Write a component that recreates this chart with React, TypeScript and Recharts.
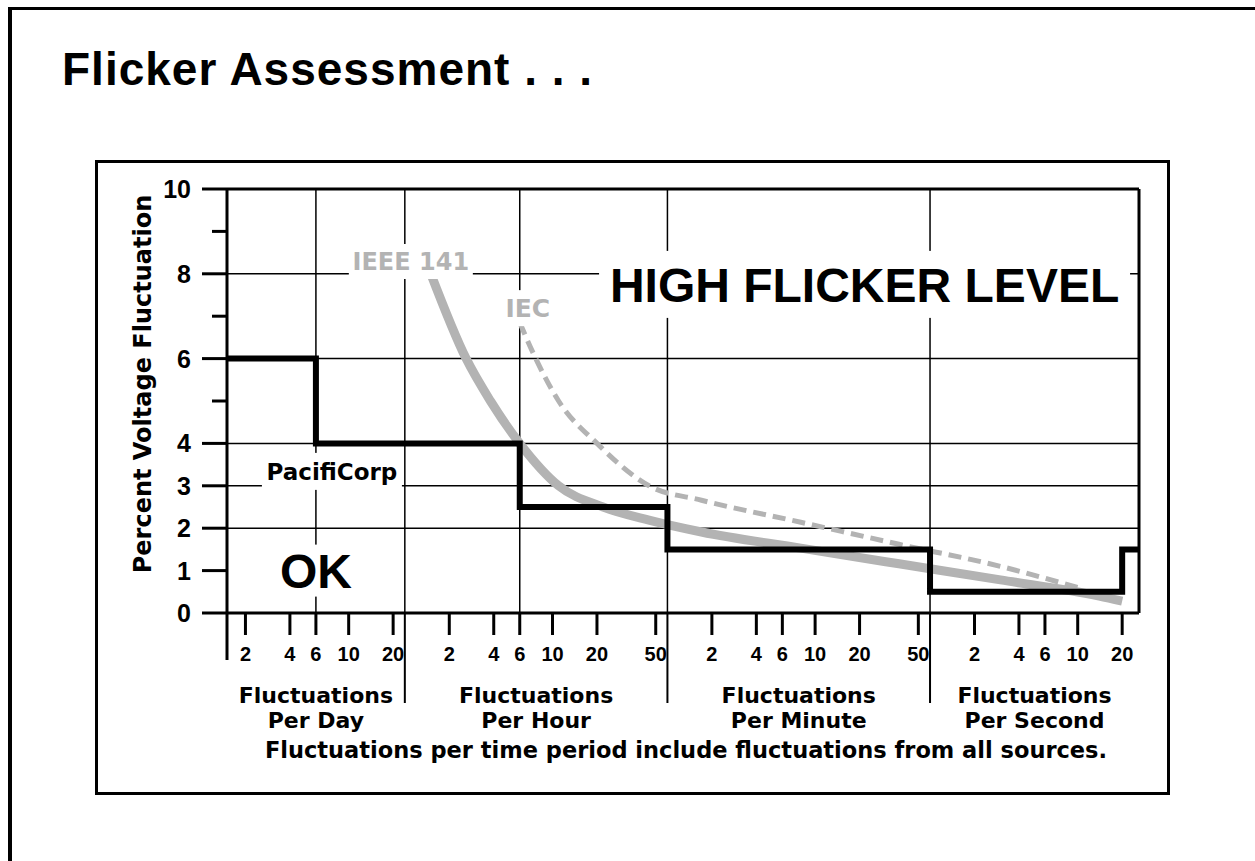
import React from "react";
import {
  LineChart, Line, XAxis, YAxis, CartesianGrid, ReferenceLine, ReferenceDot,
} from "recharts";

const SANS = "'Liberation Sans', Arial, Helvetica, sans-serif";
const WIDE = "'DejaVu Sans', Verdana, sans-serif";
const GRAY = "#b3b3b3";

// x axis is log, in fluctuations per hour
const perHour: Record<string, number> = { day: 1 / 24, hour: 1, minute: 60, second: 3600 };
const toX = (n: number, unit: string) => n * perHour[unit];

const axisStart: [number, string] = [1.5, "day"];
const axisEnd: [number, string] = [26, "second"];

const sectionUnits = ["day", "hour", "minute", "second"];
const sectionNames = ["Per Day", "Per Hour", "Per Minute", "Per Second"];
const dayTicks = [2, 4, 6, 10, 20];
const hourTicks = [2, 4, 6, 10, 20, 50];
const minuteTicks = [2, 4, 6, 10, 20, 50];
const secondTicks = [2, 4, 6, 10, 20];
const sectionTicks = [dayTicks, hourTicks, minuteTicks, secondTicks];

const yTicks = [0, 1, 2, 3, 4, 5, 6, 7, 8, 9, 10];
const yLabelled = [0, 1, 2, 3, 4, 6, 8, 10];
const yGrid = [2, 3, 4, 6, 8];
const xGrid: [number, string][] = [[6, "day"], [1, "hour"], [6, "hour"], [1, "minute"], [1, "second"]];

// [count, unit, percent]
const pacifiCorp: [number, string, number][] = [
  [1.5, "day", 6], [6, "day", 4], [6, "hour", 2.5], [1, "minute", 1.5],
  [1, "second", 0.5], [20, "second", 1.5], [26, "second", 1.5],
];

const ieee141: [number, string, number][] = [
  [1.5, "hour", 8.0], [2.6, "hour", 6.0], [3.8, "hour", 5.0], [6, "hour", 4.0],
  [11, "hour", 3.0], [22, "hour", 2.5], [45, "hour", 2.19],
  [1.7, "minute", 1.91], [8, "minute", 1.53], [37, "minute", 1.16],
  [3, "second", 0.78], [14, "second", 0.4], [20, "second", 0.28],
];

const iec: [number, string, number][] = [
  [6, "hour", 6.85], [7.7, "hour", 6.0], [11, "hour", 5.0], [20, "hour", 4.0], [45, "hour", 3.0],
  [1.7, "minute", 2.66], [8, "minute", 2.14], [37, "minute", 1.62],
  [3, "second", 1.1], [10, "second", 0.6],
];

const noteTexts = ["HIGH FLICKER LEVEL", "OK", "PacifiCorp", "IEEE 141", "IEC"];
const noteAnchors: [number, string, number][] = [
  [20, "minute", 7.75], [6, "day", 1.0], [6, "day", 3.34], [1, "hour", 8.29], [6, "hour", 7.19],
];
const noteStyles = [
  { font: SANS, size: 48, cap: 0.716, color: "#000", w: 531, h: 67, dx: 5 },
  { font: SANS, size: 48, cap: 0.716, color: "#000", w: 80, h: 52, dx: 0 },
  { font: WIDE, size: 23, cap: 0.729, color: "#000", w: 140, h: 37, dx: 16 },
  { font: WIDE, size: 24, cap: 0.729, color: GRAY, w: 124, h: 35, dx: 6 },
  { font: WIDE, size: 25, cap: 0.729, color: GRAY, w: 50, h: 36, dx: 8 },
];

const xLo = toX(...axisStart);
const xHi = toX(...axisEnd);
const toPoints = (rows: [number, string, number][]) => rows.map(([n, u, v]) => ({ x: toX(n, u), y: v }));

// every x tick: numbers, section dividers, left edge, section captions
type TickItem = { kind: string; label?: string };
const tickMap = new Map<number, TickItem[]>();
const addTick = (v: number, item: TickItem) => tickMap.set(v, [...(tickMap.get(v) || []), item]);
addTick(xLo, { kind: "edge" });
const bounds = [xLo, toX(1, "hour"), toX(1, "minute"), toX(1, "second"), xHi];
sectionUnits.forEach((u, i) => {
  sectionTicks[i].forEach((n) => addTick(toX(n, u), { kind: "num", label: String(n) }));
  if (i > 0) addTick(toX(1, u), { kind: "divider" });
  addTick(Math.sqrt(bounds[i] * bounds[i + 1]), { kind: "section", label: sectionNames[i] });
});
const xTicks = [...tickMap.keys()].sort((a, b) => a - b);

function tickPart(t: TickItem, x: number, y: number, k: number) {
  if (t.kind === "edge") return <line key={k} x1={x} x2={x} y1={y} y2={y + 47} stroke="#000" strokeWidth={3} />;
  if (t.kind === "divider") return <line key={k} x1={x} x2={x} y1={y} y2={y + 90} stroke="#000" strokeWidth={2} />;
  if (t.kind === "num") {
    return (
      <g key={k}>
        <line x1={x} x2={x} y1={y} y2={y + 22} stroke="#000" strokeWidth={3} />
        <text x={x} y={y + 48} textAnchor="middle" fontFamily={SANS} fontSize={20} fontWeight="bold" fill="#000">
          {t.label}
        </text>
      </g>
    );
  }
  return (
    <text key={k} textAnchor="middle" fontFamily={WIDE} fontSize={22} fontWeight="bold" fill="#000">
      <tspan x={x} y={y + 90}>Fluctuations</tspan>
      <tspan x={x} y={y + 115}>{t.label}</tspan>
    </text>
  );
}

function XTick({ x, y, payload }: any) {
  const items = tickMap.get(payload.value) || [];
  return <g>{items.map((t, k) => tickPart(t, x, y, k))}</g>;
}

function YTick({ x, y, payload }: any) {
  const v = payload.value;
  const labelled = yLabelled.includes(v);
  return (
    <g>
      <line x1={x - (labelled ? 25 : 15)} x2={x} y1={y} y2={y} stroke="#000" strokeWidth={3} />
      {labelled && (
        <text x={x - 36} y={y} dy="0.36em" textAnchor="end" fontFamily={SANS} fontSize={25} fontWeight="bold" fill="#000">
          {v}
        </text>
      )}
    </g>
  );
}

const yTitle = (p: any) => {
  const vb = p.viewBox;
  const x = vb.x + vb.width - 84;
  const y = vb.y + vb.height / 2 - 17;
  return (
    <text x={x} y={y} transform={`rotate(-90 ${x} ${y})`} textAnchor="middle" dominantBaseline="central"
      fontFamily={WIDE} fontSize={24} fontWeight="bold" fill="#000">
      Percent Voltage Fluctuation
    </text>
  );
};

const footnote = (p: any) => {
  const vb = p.viewBox;
  return (
    <text x={vb.x + vb.width / 2 + 3} y={vb.y + 145} textAnchor="middle" fontFamily={WIDE} fontSize={22.5} fontWeight="bold" fill="#000">
      Fluctuations per time period include fluctuations from all sources.
    </text>
  );
};

const noteShape = (i: number) => (p: any) => {
  const s = noteStyles[i];
  const cx = p.cx + s.dx;
  const cy = p.cy;
  return (
    <g>
      <rect x={cx - s.w / 2} y={cy - s.h / 2} width={s.w} height={s.h} fill="#fff" />
      <text x={cx} y={cy + (s.size * s.cap) / 2} textAnchor="middle" fontFamily={s.font} fontSize={s.size}
        fontWeight="bold" fill={s.color}>
        {noteTexts[i]}
      </text>
    </g>
  );
};

export default function App() {
  return (
    <div style={{ position: "fixed", left: 0, top: 0, width: 1255, height: 861, background: "#fff", overflow: "hidden" }}>
      <div style={{ position: "absolute", left: 8, top: 7, width: 1400, height: 1000, borderTop: "3px solid #000", borderLeft: "4px solid #000" }} />
      <div style={{ position: "absolute", left: 62, top: 46, fontFamily: SANS, fontWeight: "bold", fontSize: 46, lineHeight: "46px", letterSpacing: 1, whiteSpace: "pre" }}>
        Flicker Assessment . . .
      </div>
      <div style={{ position: "absolute", left: 95, top: 160, width: 1075, height: 635, border: "3px solid #000", boxSizing: "border-box" }} />
      <div style={{ position: "absolute", left: 96, top: 161 }}>
        <LineChart width={1072} height={632} margin={{ top: 28, right: 29, bottom: 0, left: 0 }}>
          <CartesianGrid stroke="#000" strokeWidth={1.5}
            horizontalValues={yGrid} verticalValues={xGrid.map(([n, u]) => toX(n, u))} />
          <XAxis type="number" dataKey="x" scale="log" domain={[xLo, xHi]} allowDataOverflow
            ticks={xTicks} interval={0} tick={<XTick />} tickLine={false} tickSize={0} tickMargin={0}
            axisLine={{ stroke: "#000", strokeWidth: 3 }} height={180} label={footnote} />
          <YAxis type="number" domain={[0, 10]} ticks={yTicks} interval={0} tick={<YTick />} tickLine={false}
            tickSize={0} tickMargin={0} axisLine={{ stroke: "#000", strokeWidth: 3 }} width={131} label={yTitle} />
          <ReferenceLine y={10} stroke="#000" strokeWidth={3} ifOverflow="visible" />
          <ReferenceLine x={xHi} stroke="#000" strokeWidth={3} ifOverflow="visible" />
          {noteAnchors.map(([n, u, v], i) => (
            <ReferenceDot key={noteTexts[i]} x={toX(n, u)} y={v} r={0} ifOverflow="visible" shape={noteShape(i)} />
          ))}
          <Line data={toPoints(ieee141)} dataKey="y" type="monotone" stroke={GRAY} strokeWidth={9}
            dot={false} isAnimationActive={false} />
          <Line data={toPoints(iec)} dataKey="y" type="monotone" stroke={GRAY} strokeWidth={5}
            strokeDasharray="13 7" dot={false} isAnimationActive={false} />
          <Line data={toPoints(pacifiCorp)} dataKey="y" type="stepAfter" stroke="#000" strokeWidth={6}
            dot={false} isAnimationActive={false} />
        </LineChart>
      </div>
    </div>
  );
}
